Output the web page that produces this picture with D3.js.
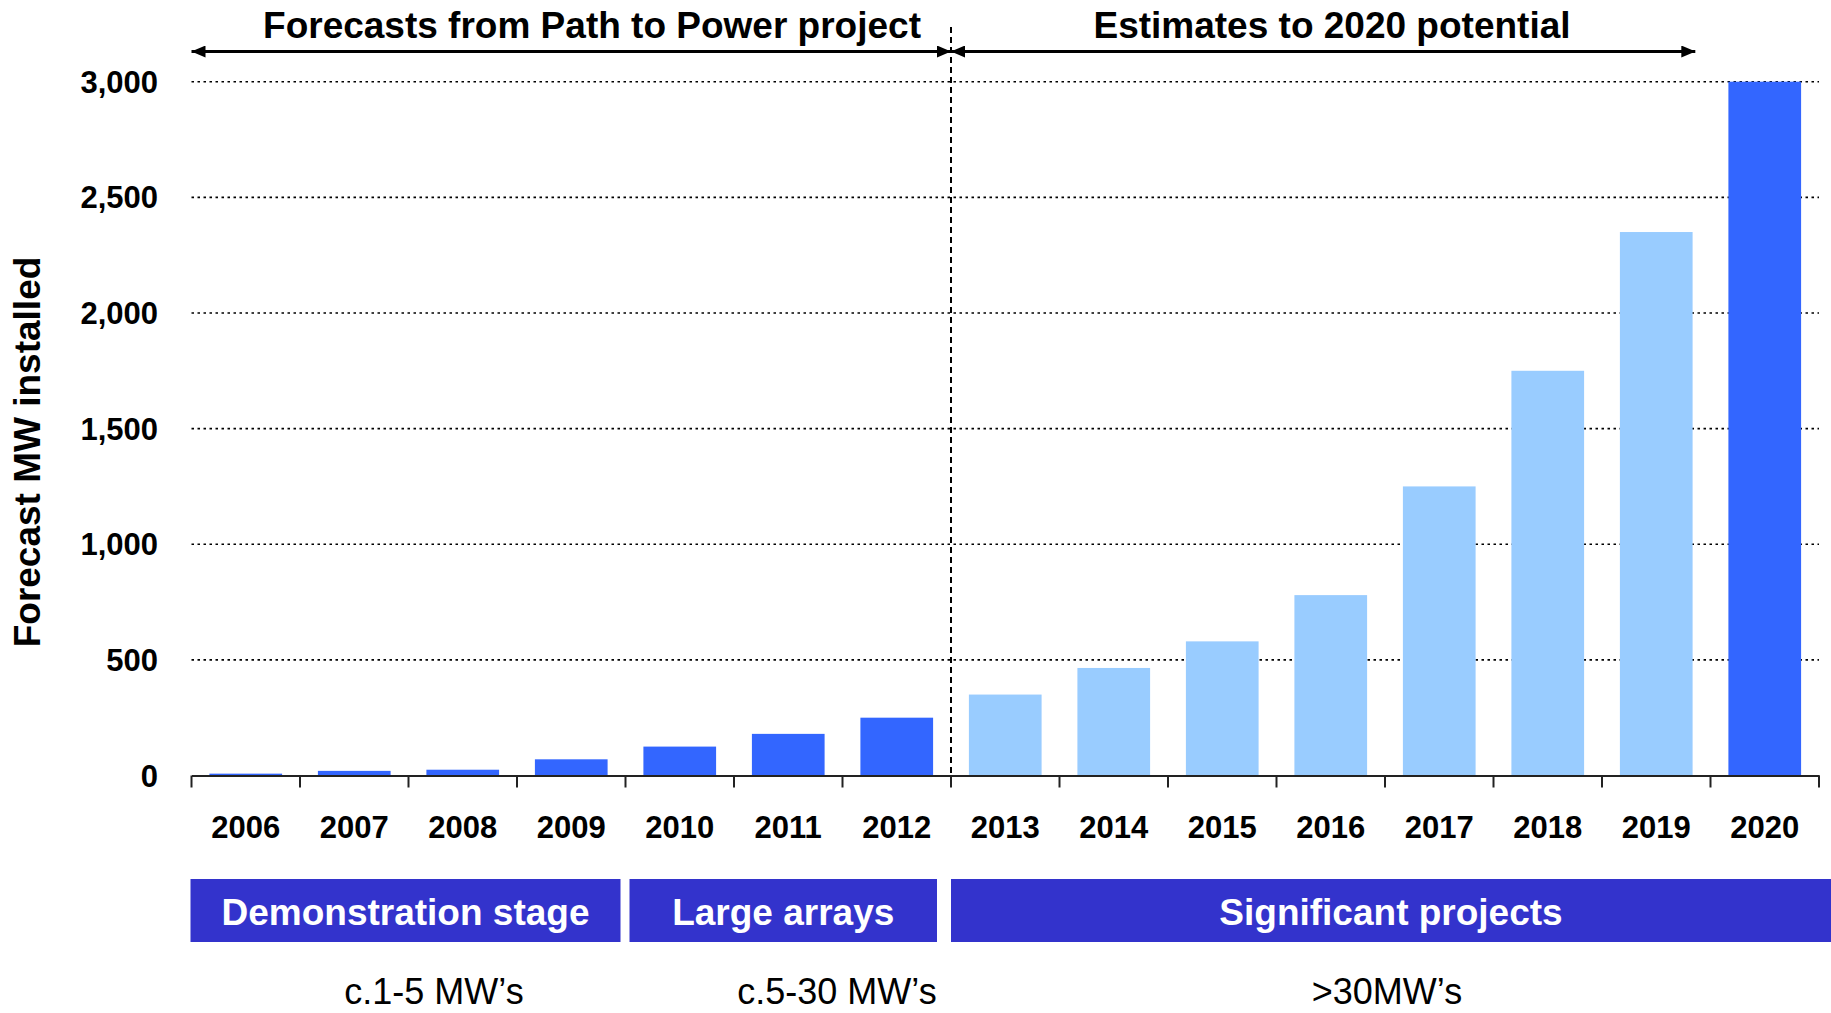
<!DOCTYPE html>
<html>
<head>
<meta charset="utf-8">
<script src="https://cdn.jsdelivr.net/npm/d3@7"></script>
<style>
  body { margin: 0; background: #fff; }
  text { font-family: "Liberation Sans", Arial, sans-serif; }
</style>
</head>
<body>
<script>
// data
const years = ['2006', '2007', '2008', '2009', '2010', '2011', '2012', '2013', '2014', '2015', '2016', '2017', '2018', '2019', '2020'];
const forecastMW = [8, 20, 25, 70, 125, 180, 250, 350, 465, 580, 780, 1250, 1750, 2350, 3000];
const estimated = [false, false, false, false, false, false, false, true, true, true, true, true, true, true, false];
const yTicks = [0, 500, 1000, 1500, 2000, 2500, 3000];
const stageNames = ['Demonstration stage', 'Large arrays', 'Significant projects'];
const stageFrom = ['2006', '2010', '2013'];
const stageTo = ['2009', '2012', '2020'];
const sizeNotes = ['c.1-5 MW\u2019s', 'c.5-30 MW\u2019s', '>30MW\u2019s'];
const periodNames = ['Forecasts from Path to Power project', 'Estimates to 2020 potential'];

const main = () => {
  const width = 1831;
  const height = 1013;
  const left = 191.5;
  const right = 1819;
  const top = 81.7;
  const bottom = 775.5;

  const svg = d3.select('body').append('svg').attr('width', width).attr('height', height);

  const x = d3.scaleBand().domain(years).range([left, right]).paddingInner(0.33).paddingOuter(0.165);
  const y = d3.scaleLinear().domain([0, 3000]).range([bottom, top]);
  const step = x.step();
  const bandStart = (d) => x(d) - x.paddingInner() * step / 2;
  const split = bandStart('2013');

  // grid lines
  svg.append('g')
    .selectAll('line')
    .data(yTicks.filter((d) => d > 0))
    .join('line')
    .attr('x1', left)
    .attr('x2', right)
    .attr('y1', (d) => y(d))
    .attr('y2', (d) => y(d))
    .attr('stroke', '#000')
    .attr('stroke-width', 1.6)
    .attr('stroke-dasharray', '2.5,3.5');

  // y tick labels
  svg.append('g')
    .selectAll('text')
    .data(yTicks)
    .join('text')
    .attr('x', 158)
    .attr('y', (d) => y(d))
    .attr('dy', '0.36em')
    .attr('text-anchor', 'end')
    .attr('font-size', 31)
    .attr('font-weight', 'bold')
    .text((d) => d3.format(',')(d));

  // bars
  svg.append('g')
    .selectAll('rect')
    .data(years)
    .join('rect')
    .attr('x', (d) => x(d))
    .attr('width', x.bandwidth())
    .attr('y', (d, i) => y(forecastMW[i]))
    .attr('height', (d, i) => y(0) - y(forecastMW[i]))
    .attr('fill', (d, i) => (estimated[i] ? '#99CCFF' : '#3366FF'));

  // x axis
  const xAxis = d3.axisBottom(x).tickSize(0).tickFormat('');
  const ax = svg.append('g').attr('transform', `translate(0,${bottom})`).call(xAxis);
  ax.select('.domain').attr('stroke', '#222').attr('stroke-width', 2);
  const bounds = years.map(bandStart).concat([right]);
  ax.selectAll('.bound')
    .data(bounds)
    .join('line')
    .attr('class', 'bound')
    .attr('x1', (d) => d)
    .attr('x2', (d) => d)
    .attr('y1', 0)
    .attr('y2', 12)
    .attr('stroke', '#222')
    .attr('stroke-width', 2);

  svg.append('g')
    .selectAll('text')
    .data(years)
    .join('text')
    .attr('x', (d) => x(d) + x.bandwidth() / 2)
    .attr('y', 838)
    .attr('text-anchor', 'middle')
    .attr('font-size', 31)
    .attr('font-weight', 'bold')
    .text((d) => d);

  // y axis title
  svg.append('text')
    .attr('transform', 'translate(40,452) rotate(-90)')
    .attr('text-anchor', 'middle')
    .attr('font-size', 37)
    .attr('font-weight', 'bold')
    .text('Forecast MW installed');

  // vertical dashed divider
  svg.append('line')
    .attr('x1', split)
    .attr('x2', split)
    .attr('y1', 27)
    .attr('y2', bottom)
    .attr('stroke', '#000')
    .attr('stroke-width', 2)
    .attr('stroke-dasharray', '6,4');

  // arrows
  const defs = svg.append('defs');
  ['start', 'end'].forEach((k) => {
    defs.append('marker')
      .attr('id', 'arrow-' + k)
      .attr('viewBox', '0 0 14 12')
      .attr('refX', k === 'end' ? 14 : 0)
      .attr('refY', 6)
      .attr('markerWidth', 14)
      .attr('markerHeight', 12)
      .attr('markerUnits', 'userSpaceOnUse')
      .attr('orient', 'auto')
      .append('path')
      .attr('d', k === 'end' ? 'M0,0L14,6L0,12Z' : 'M14,0L0,6L14,12Z')
      .attr('fill', '#000');
  });
  const arrowEnds = [[left, split], [split, bandStart('2019') + step * 0.86]];
  svg.append('g')
    .selectAll('line')
    .data(arrowEnds)
    .join('line')
    .attr('x1', (d) => d[0])
    .attr('x2', (d) => d[1])
    .attr('y1', 51.5)
    .attr('y2', 51.5)
    .attr('stroke', '#000')
    .attr('stroke-width', 3)
    .attr('marker-start', 'url(#arrow-start)')
    .attr('marker-end', 'url(#arrow-end)');

  svg.append('g')
    .selectAll('text')
    .data(periodNames)
    .join('text')
    .attr('x', (d, i) => [592, 1332][i])
    .attr('y', 38)
    .attr('text-anchor', 'middle')
    .attr('font-size', 37)
    .attr('font-weight', 'bold')
    .text((d) => d);

  // stage boxes
  const stageX0 = stageFrom.map((d, i) => bandStart(d) + (i === 0 ? -1 : i === 1 ? 4 : 0));
  const stageX1 = stageTo.map((d, i) => (i === 2 ? width : bandStart(d) + step - (i === 0 ? 5 : 14)));
  const stages = svg.append('g');
  stages.selectAll('rect')
    .data(stageNames)
    .join('rect')
    .attr('x', (d, i) => stageX0[i])
    .attr('width', (d, i) => stageX1[i] - stageX0[i])
    .attr('y', 879)
    .attr('height', 63)
    .attr('fill', '#3333CC');
  stages.selectAll('text')
    .data(stageNames)
    .join('text')
    .attr('x', (d, i) => (stageX0[i] + stageX1[i]) / 2)
    .attr('y', 925)
    .attr('text-anchor', 'middle')
    .attr('font-size', 37)
    .attr('font-weight', 'bold')
    .attr('fill', '#fff')
    .text((d) => d);

  svg.append('g')
    .selectAll('text')
    .data(sizeNotes)
    .join('text')
    .attr('x', (d, i) => [434, 837, 1387][i])
    .attr('y', 1004)
    .attr('text-anchor', 'middle')
    .attr('font-size', 36)
    .text((d) => d);
};

main();
</script>
</body>
</html>
